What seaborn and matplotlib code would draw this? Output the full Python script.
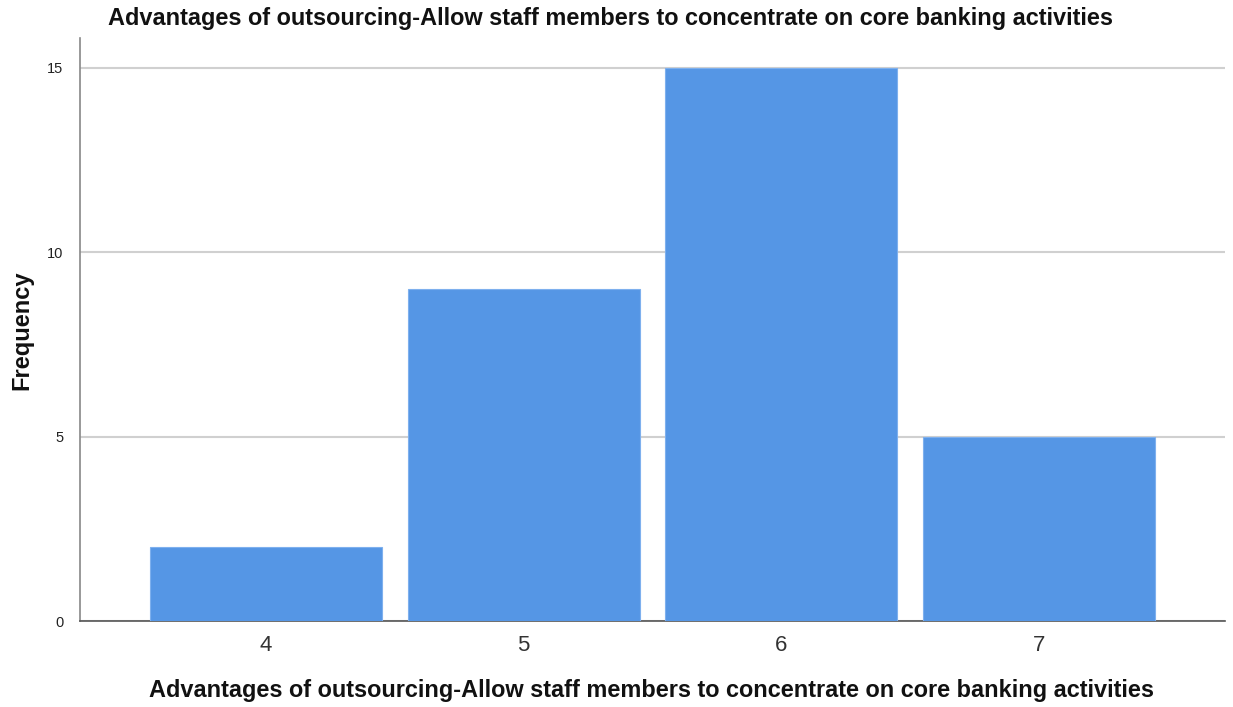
import matplotlib
matplotlib.use("Agg")
import matplotlib.pyplot as plt
import seaborn as sns
import pandas as pd

categories = ["4", "5", "6", "7"]
frequency = [2, 9, 15, 5]
title = "Advantages of outsourcing-Allow staff members to concentrate on core banking activities"

df = pd.DataFrame({"score": categories, "freq": frequency})

sns.set_style("white")
plt.rcParams["font.family"] = ["Liberation Sans", "DejaVu Sans"]

fig = plt.figure(figsize=(12.33, 7.07), dpi=100)
ax = fig.add_axes([0.0649, 0.1216, 0.9286, 0.8244])

sns.barplot(data=df, x="score", y="freq", color="#5596e5", saturation=1,
            width=0.9, edgecolor="#7eb0ee", linewidth=0.8, ax=ax, zorder=3)

ax.set_xlim(-0.72, 3.72)
ax.set_ylim(0, 15.8)
ax.set_yticks([0, 5, 10, 15])
ax.yaxis.grid(True, color="#d0d0d0", linewidth=1.5, zorder=0)
ax.set_axisbelow(True)
for s in ["top", "right"]:
    ax.spines[s].set_visible(False)
ax.spines["left"].set_color("#888888")
ax.spines["bottom"].set_color("#555555")
ax.spines["left"].set_linewidth(1.2)
ax.spines["bottom"].set_linewidth(1.2)

ax.tick_params(axis="y", labelsize=10.5, length=0, pad=12, labelcolor="#222222")
ax.tick_params(axis="x", labelsize=16, length=0, pad=10, labelcolor="#333333")
ax.set_xlabel("")
ax.set_ylabel("")

# title, x label and y label placed in figure pixels to match the reference
fig.text(611 / 1233, 1 - 18 / 707, title, fontsize=16.9, fontweight="bold",
         ha="center", va="center", color="#111111")
fig.text(652 / 1233, 1 - 690 / 707, title, fontsize=16.9, fontweight="bold",
         ha="center", va="center", color="#111111")
fig.text(22 / 1233, 1 - 330 / 707, "Frequency", fontsize=17, fontweight="bold",
         rotation=90, ha="center", va="center", color="#111111")

fig.savefig("out.png", dpi=100)
